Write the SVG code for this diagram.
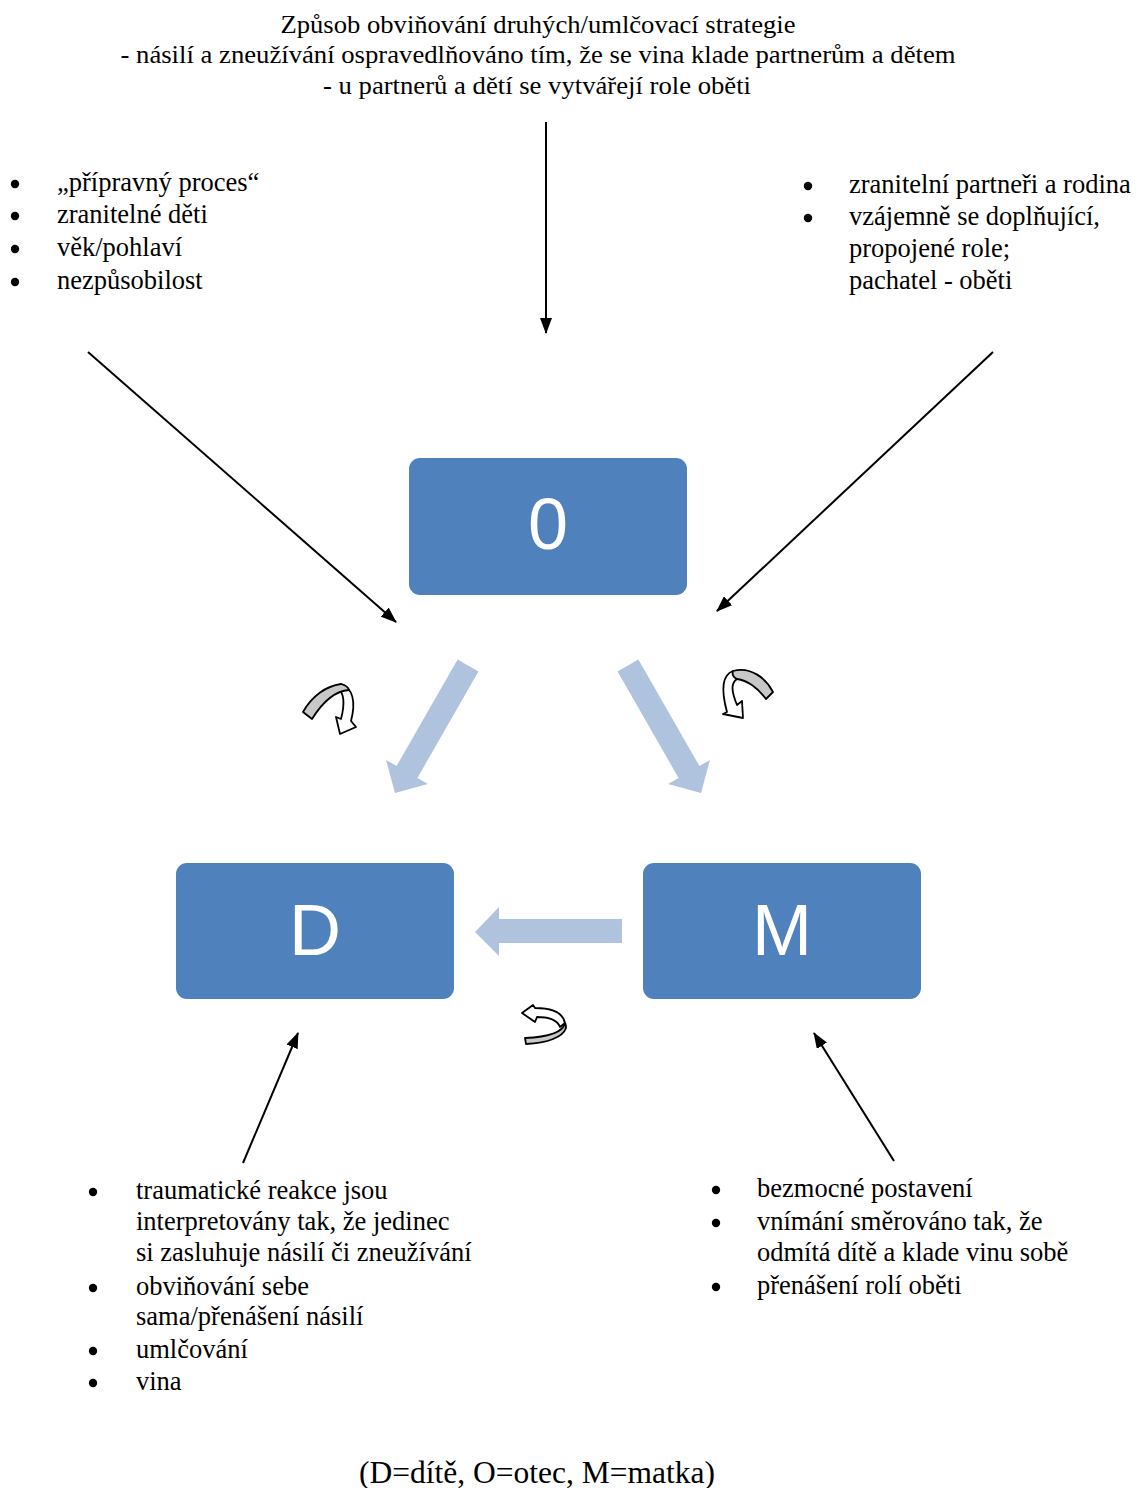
<svg xmlns="http://www.w3.org/2000/svg" width="1138" height="1488" viewBox="0 0 1138 1488">
<defs>
<marker id="ah" viewBox="0 0 16 12" refX="15" refY="6" markerWidth="16" markerHeight="12" markerUnits="userSpaceOnUse" orient="auto">
<path d="M0,0 L16,6 L0,12 Z" fill="#000"/>
</marker>
</defs>
<style>
.t{font-family:"Liberation Serif","Times New Roman",serif;font-size:26.5px;fill:#000}
.top{font-family:"Liberation Serif","Times New Roman",serif;font-size:26px;fill:#000;text-anchor:middle}
.dot{fill:#000}
.box{fill:#4F81BD}
.lbl{font-family:"Liberation Sans",Arial,sans-serif;font-size:72px;fill:#fff;text-anchor:middle}
.con{stroke:#000;stroke-width:2;fill:none;marker-end:url(#ah)}
.blk{fill:#B0C3DE}
.gray{fill:#C8C8C8;stroke:#000;stroke-width:1.8;stroke-linejoin:round}
.wht{fill:#fff;stroke:#000;stroke-width:1.8;stroke-linejoin:round}
</style>
<rect width="1138" height="1488" fill="#fff"/>

<g id="top-text">
<text class="top" x="538" y="33" textLength="515" lengthAdjust="spacingAndGlyphs">Způsob obviňování druhých/umlčovací strategie</text>
<text class="top" x="538" y="63" textLength="835" lengthAdjust="spacingAndGlyphs">- násilí a zneužívání ospravedlňováno tím, že se vina klade partnerům a dětem</text>
<text class="top" x="537" y="94" textLength="428" lengthAdjust="spacingAndGlyphs">- u partnerů a dětí se vytvářejí role oběti</text>
</g>

<g id="list-left">
<circle class="dot" cx="15" cy="184" r="4.2"/><text class="t" x="57" y="191">„přípravný proces“</text>
<circle class="dot" cx="15" cy="216" r="4.2"/><text class="t" x="57" y="223">zranitelné děti</text>
<circle class="dot" cx="15" cy="249" r="4.2"/><text class="t" x="57" y="256">věk/pohlaví</text>
<circle class="dot" cx="15" cy="282" r="4.2"/><text class="t" x="57" y="289">nezpůsobilost</text>
</g>

<g id="list-right">
<circle class="dot" cx="808" cy="186" r="4.2"/><text class="t" x="849" y="193">zranitelní partneři a rodina</text>
<circle class="dot" cx="808" cy="218" r="4.2"/><text class="t" x="849" y="225">vzájemně se doplňující,</text>
<text class="t" x="849" y="257">propojené role;</text>
<text class="t" x="849" y="289">pachatel - oběti</text>
</g>

<g id="node-O">
<rect class="box" x="409" y="458" width="278" height="137" rx="11"/>
<text class="lbl" x="548" y="549">0</text>
</g>
<g id="node-D">
<rect class="box" x="176" y="863" width="278" height="136" rx="11"/>
<text class="lbl" x="315" y="955">D</text>
</g>
<g id="node-M">
<rect class="box" x="643" y="863" width="278" height="136" rx="11"/>
<text class="lbl" x="782" y="955">M</text>
</g>

<g id="connectors">
<line class="con" x1="546" y1="122" x2="546" y2="333"/>
<line class="con" x1="88" y1="352" x2="396" y2="622"/>
<line class="con" x1="993" y1="352" x2="717" y2="611"/>
<line class="con" x1="243" y1="1163" x2="298" y2="1033"/>
<line class="con" x1="894" y1="1161" x2="814" y2="1033"/>
<polygon class="blk" points="457.6,659.5 478.4,671.5 417.4,778 427.9,783.9 395,793 386.1,760.1 396.6,766"/>
<polygon class="blk" points="638.4,659.5 617.6,671.5 678.6,778 668.1,783.9 701,793 709.9,760.1 699.4,766"/>
<polygon class="blk" points="622,919 499,919 499,907 475,932 499,956 499,943 622,943"/>
</g>

<g id="cycle-left">
<path class="wht" d="M341,684 C353,688 356,702 351,721 L356,727 L340,734 L336,717 L341,719 C345,704 345,693 337,687 Z"/>
<path class="gray" d="M303,712 C312,696 326,686 341,684 C345,685 348,687 349,690 C334,691 322,703 312,719 Z"/>
</g>
<g id="cycle-right">
<path class="wht" d="M733,671 C722,675 721,690 727,712 L723,714 L743,718 L742,701 L737,705 C731,690 731,683 737,679 Z"/>
<path class="gray" d="M733,671 C750,666 766,678 773,692 L766,699 C758,688 747,680 737,679 C733,677 732,674 733,671 Z"/>
</g>
<g id="cycle-bottom">
<path class="wht" d="M535,1008 L533,1005 L522,1013 L535,1022 L537,1017 C548,1017 557,1019 560,1027 L565,1023 C563,1013 552,1008 535,1008 Z"/>
<path class="gray" d="M565,1023 C563,1032 550,1037 525,1038 L526,1044 C548,1043 563,1037 566,1028 C566,1026 566,1024 565,1023 Z"/>
</g>

<g id="list-bottom-left">
<circle class="dot" cx="93" cy="1192" r="4.2"/><text class="t" x="136" y="1199">traumatické reakce jsou</text>
<text class="t" x="136" y="1230">interpretovány tak, že jedinec</text>
<text class="t" x="136" y="1261">si zasluhuje násilí či zneužívání</text>
<circle class="dot" cx="93" cy="1288" r="4.2"/><text class="t" x="136" y="1295">obviňování sebe</text>
<text class="t" x="136" y="1325">sama/přenášení násilí</text>
<circle class="dot" cx="93" cy="1351" r="4.2"/><text class="t" x="136" y="1358">umlčování</text>
<circle class="dot" cx="93" cy="1383" r="4.2"/><text class="t" x="136" y="1390">vina</text>
</g>

<g id="list-bottom-right">
<circle class="dot" cx="716" cy="1190" r="4.2"/><text class="t" x="757" y="1197">bezmocné postavení</text>
<circle class="dot" cx="716" cy="1223" r="4.2"/><text class="t" x="757" y="1230">vnímání směrováno tak, že</text>
<text class="t" x="757" y="1261">odmítá dítě a klade vinu sobě</text>
<circle class="dot" cx="716" cy="1287" r="4.2"/><text class="t" x="757" y="1294">přenášení rolí oběti</text>
</g>

<g id="caption">
<text class="t" x="537" y="1483" style="font-size:31.5px;text-anchor:middle">(D=dítě, O=otec, M=matka)</text>
</g>
</svg>
